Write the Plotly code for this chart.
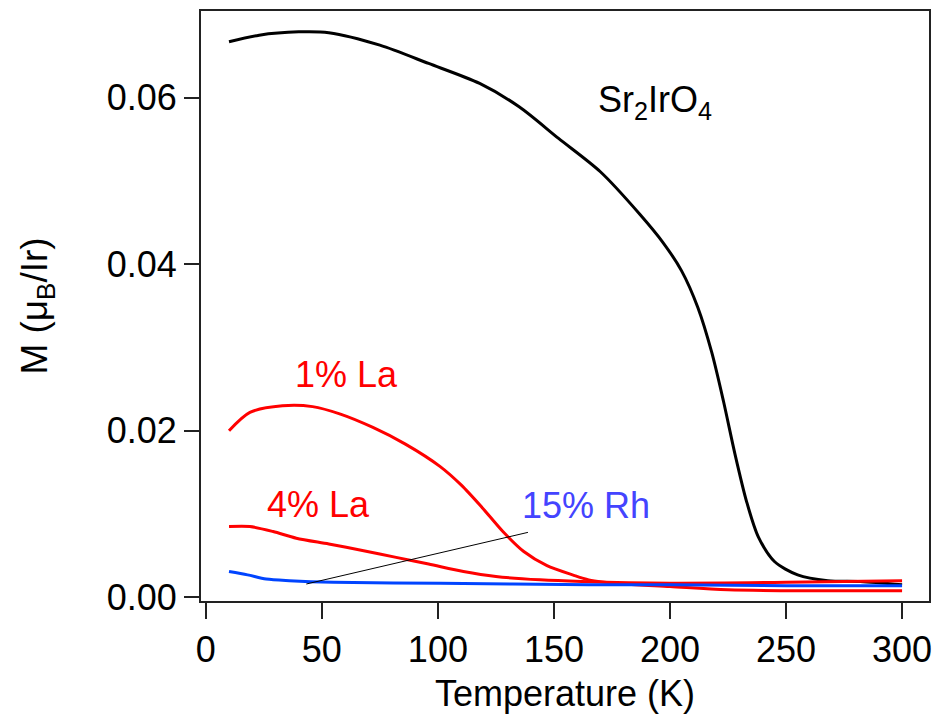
import plotly.graph_objects as go

# Sr2IrO4
T_sr = [10, 23, 40, 53, 75, 96, 118, 135, 152, 170, 187, 197, 205, 212, 218, 223, 228, 233, 238, 245, 255,
        268, 282, 300]
M_sr = [0.0667, 0.0675, 0.0679, 0.0678, 0.0663, 0.0641, 0.0617, 0.0589, 0.0551, 0.0511, 0.0460, 0.0426,
        0.0392, 0.0348, 0.0294, 0.0236, 0.0172, 0.0115, 0.0073, 0.0043, 0.0027, 0.0020, 0.0019, 0.0015]

# 1% La
T_la1 = [10, 19, 33, 46, 58, 72, 86, 101, 110, 119, 128, 137, 147, 158, 165, 180, 200, 225, 300]
M_la1 = [0.0200, 0.0222, 0.0230, 0.0229, 0.0220, 0.0204, 0.0184, 0.0157, 0.0135, 0.0108, 0.0079, 0.0055,
         0.0038, 0.0027, 0.0021, 0.0016, 0.0013, 0.0009, 0.0008]

# 4% La
T_la4 = [10, 19, 29, 39, 53, 68, 82, 96, 111, 125, 144, 162, 200, 250, 300]
M_la4 = [0.0085, 0.0085, 0.0079, 0.0071, 0.0064, 0.0056, 0.0048, 0.0040, 0.0031, 0.0025, 0.0021, 0.0019,
         0.0017, 0.0018, 0.0020]

# 15% Rh
T_rh = [10, 18, 26, 36, 55, 101, 165, 200, 250, 300]
M_rh = [0.0031, 0.0027, 0.0022, 0.0020, 0.0018, 0.0017, 0.0015, 0.0015, 0.0014, 0.0014]

# pointer line from label to 15% Rh curve
T_ptr = [43.3, 138.8]
M_ptr = [0.0016, 0.0078]

x_ticks = [0, 50, 100, 150, 200, 250, 300]
y_ticks = [0.00, 0.02, 0.04, 0.06]
y_tick_text = ["0.00", "0.02", "0.04", "0.06"]

FONT = "Liberation Sans, Arial, sans-serif"

fig = go.Figure()
fig.add_trace(go.Scatter(x=T_sr, y=M_sr, mode="lines", line=dict(color="black", width=3, shape="spline", smoothing=0.8)))
fig.add_trace(go.Scatter(x=T_la1, y=M_la1, mode="lines", line=dict(color="#ff0000", width=3, shape="spline", smoothing=0.8)))
fig.add_trace(go.Scatter(x=T_la4, y=M_la4, mode="lines", line=dict(color="#ff0000", width=3, shape="spline", smoothing=0.8)))
fig.add_trace(go.Scatter(x=T_rh, y=M_rh, mode="lines", line=dict(color="#0044ff", width=3, shape="spline", smoothing=0.8)))
fig.add_trace(go.Scatter(x=T_ptr, y=M_ptr, mode="lines", line=dict(color="black", width=1)))

ann = [
    dict(x=193.4, y=0.0595, text="Sr<sub>2</sub>IrO<sub>4</sub>", color="black"),
    dict(x=60.6, y=0.0268, text="1% La", color="#ff0000"),
    dict(x=48.6, y=0.0111, text="4% La", color="#ff0000"),
    dict(x=163.7, y=0.0110, text="15% Rh", color="#4444ff"),
]
for a in ann:
    fig.add_annotation(x=a["x"], y=a["y"], text=a["text"], showarrow=False,
                       font=dict(size=36, color=a["color"], family=FONT), xanchor="center", yanchor="middle")

fig.update_layout(
    width=949, height=726,
    margin=dict(l=201, r=20, t=9, b=125),
    paper_bgcolor="white", plot_bgcolor="white",
    showlegend=False,
    font=dict(family=FONT, size=36, color="black"),
)
fig.update_xaxes(
    range=[-2.07, 311.6], tickvals=x_ticks, ticks="outside", ticklen=16, tickwidth=2, tickcolor="#222",
    showline=True, linewidth=2, linecolor="#222", mirror=True, showgrid=False, zeroline=False,
    title=dict(text="Temperature (K)", font=dict(size=36), standoff=12),
    tickfont=dict(size=36),
)
fig.update_yaxes(
    range=[-0.00044, 0.0704], tickvals=y_ticks, ticktext=y_tick_text, ticks="outside", ticklen=15, tickwidth=2,
    tickcolor="#222", showline=True, linewidth=2, linecolor="#222", mirror=True, showgrid=False, zeroline=False,
    title=dict(text="M (μ<sub>B</sub>/Ir)", font=dict(size=37), standoff=48),
    tickfont=dict(size=36),
)

fig.write_html("out.html")
